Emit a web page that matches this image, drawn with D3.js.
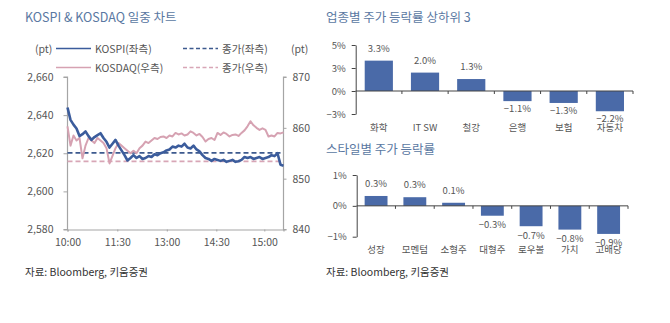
<!DOCTYPE html>
<html><head><meta charset="utf-8">
<script src="https://cdn.jsdelivr.net/npm/d3@7"></script>
<style>
html,body{margin:0;padding:0;background:#fff;}
svg text{font-family:"Noto Sans CJK KR","Noto Sans",sans-serif;}
</style></head>
<body><svg id="c" width="670" height="323"></svg>
<script>
// ---------- DATA ----------
const kospi = [2644.0,2637.5,2635.0,2633.0,2629.0,2630.0,2631.5,2629.0,2627.0,2628.5,2629.5,2630.5,2628.0,2626.0,2623.0,2625.0,2627.0,2624.0,2621.5,2619.0,2616.2,2617.5,2619.0,2617.5,2618.5,2617.0,2617.5,2618.5,2618.0,2619.5,2619.0,2620.0,2620.5,2621.5,2622.0,2623.5,2623.0,2624.0,2623.5,2625.0,2623.0,2622.5,2624.0,2622.0,2621.0,2619.0,2617.5,2617.0,2616.0,2617.0,2616.5,2616.0,2616.5,2615.5,2616.0,2616.5,2615.5,2615.8,2616.5,2618.0,2617.5,2618.0,2617.0,2617.5,2618.0,2617.0,2617.5,2618.0,2619.0,2618.5,2620.0,2614.0,2613.5];
const kosdaq = [860.3,856.5,858.5,857.5,858.0,854.0,856.5,858.0,857.5,857.0,858.0,857.5,857.0,856.0,853.0,854.5,856.0,857.0,856.5,856.0,855.5,855.0,855.5,855.0,856.0,856.5,857.3,857.0,857.5,858.0,857.8,858.2,858.3,858.0,858.5,858.3,859.0,858.7,858.9,858.5,858.7,859.3,859.0,858.5,858.8,858.2,857.3,857.8,858.0,857.6,859.0,858.6,859.1,858.8,858.3,858.6,858.7,858.4,859.0,859.5,860.3,861.3,860.5,860.0,859.6,859.9,859.6,858.3,858.5,858.3,859.0,858.9,859.1];
const kospiClose = 2620.2;
const kosdaqClose = 853.4;
const timeTickIdx = [0, 16.6, 33.1, 49.6, 65.6];
const timeTickLabels = ["10:00","11:30","13:00","14:30","15:00"];
const leftTicks = [2580, 2600, 2620, 2640, 2660];
const rightTicks = [840, 850, 860, 870];

const sectorCats = ["화학","IT SW","철강","은행","보험","자동차"];
const sectorVals = [3.3, 2.0, 1.3, -1.1, -1.3, -2.2];
const sectorTicks = [-2.5, 0, 2.5, 5];
const sectorTickLabels = ["−3%","0%","3%","5%"];

const styleCats = ["성장","모멘텀","소형주","대형주","로우볼","가치","고배당"];
const styleVals = [0.32, 0.28, 0.1, -0.32, -0.66, -0.77, -0.91];
const styleTicks = [-1, 0, 1];
const styleTickLabels = ["−1%","0%","1%"];

// ---------- STYLE ----------
const titleColor = "#5a78a2";
const textColor = "#555";
const axisGray = "#a5a5a5";
const barColor = "#4a6aa8";
const kospiColor = "#3b5c9c";
const kosdaqColor = "#d6a2b2";

const svg = d3.select("#c");
const fmtLabel = v => (v < 0 ? "−" : "") + Math.abs(v).toFixed(1) + "%";

// ---------- LINE CHART ----------
const x = d3.scaleLinear().domain([0, kospi.length - 1]).range([67.5, 283.5]);
const yL = d3.scaleLinear().domain([2580, 2660]).range([229.5, 77]);
const yR = d3.scaleLinear().domain([840, 870]).range([229.5, 77]);

svg.append("text").attr("x", 25).attr("y", 22).attr("font-size", 12.5).attr("fill", titleColor)
  .text("KOSPI & KOSDAQ 일중 차트");

const gL = svg.append("g").attr("transform", "translate(67.5,0)")
  .call(d3.axisLeft(yL).tickValues(leftTicks).tickFormat(d3.format(",")).tickSize(4).tickPadding(10));
const gR = svg.append("g").attr("transform", "translate(283.5,0)")
  .call(d3.axisRight(yR).tickValues(rightTicks).tickFormat(d3.format("d")).tickSize(3).tickPadding(6));
const gB = svg.append("g").attr("transform", "translate(0,229.5)")
  .call(d3.axisBottom(x).tickValues(timeTickIdx).tickFormat((d, i) => timeTickLabels[i]).tickSize(2).tickPadding(7));
[gL, gR, gB].forEach(g => {
  g.select(".domain").attr("stroke", axisGray).attr("stroke-width", 1.2);
  g.selectAll(".tick line").attr("stroke", axisGray);
  g.selectAll("text").attr("fill", textColor).attr("font-size", 10.5).attr("font-family", "'Noto Sans CJK KR',sans-serif");
});
gL.select(".domain").attr("d", "M-4,77H0V229.5H-4");
gR.select(".domain").attr("d", "M3,77H0V229.5H3");

svg.append("line").attr("x1", 67.5).attr("x2", 283.5).attr("y1", yL(kospiClose)).attr("y2", yL(kospiClose))
  .attr("stroke", "#3d5a8e").attr("stroke-width", 1.6).attr("stroke-dasharray", "5,3");
svg.append("line").attr("x1", 67.5).attr("x2", 283.5).attr("y1", yR(kosdaqClose)).attr("y2", yR(kosdaqClose))
  .attr("stroke", "#d8a6b6").attr("stroke-width", 1.6).attr("stroke-dasharray", "5,3");

svg.append("path").datum(kosdaq).attr("fill", "none").attr("stroke", kosdaqColor).attr("stroke-width", 2)
  .attr("stroke-linejoin", "round").attr("d", d3.line().x((d, i) => x(i)).y(d => yR(d)));
svg.append("path").datum(kospi).attr("fill", "none").attr("stroke", kospiColor).attr("stroke-width", 2.6)
  .attr("stroke-linejoin", "round").attr("d", d3.line().x((d, i) => x(i)).y(d => yL(d)));

const lg = svg.append("g").attr("font-size", 10.5).attr("fill", textColor);
lg.append("text").attr("x", 35).attr("y", 53).text("(pt)").attr("fill", textColor);
lg.append("text").attr("x", 291).attr("y", 53).text("(pt)").attr("fill", textColor);
const legendItems = [
  {x1: 56, x2: 91, y: 48.5, color: kospiColor, dash: null, w: 1.6, label: "KOSPI(좌측)", tx: 95},
  {x1: 56, x2: 91, y: 67.5, color: kosdaqColor, dash: null, w: 1.6, label: "KOSDAQ(우측)", tx: 95},
  {x1: 183, x2: 218, y: 48.5, color: "#3d5a8e", dash: "4,2.5", w: 1.4, label: "종가(좌측)", tx: 222},
  {x1: 183, x2: 218, y: 67.5, color: "#d8a6b6", dash: "4,2.5", w: 1.4, label: "종가(우측)", tx: 222}
];
legendItems.forEach(it => {
  lg.append("line").attr("x1", it.x1).attr("x2", it.x2).attr("y1", it.y).attr("y2", it.y)
    .attr("stroke", it.color).attr("stroke-width", it.w).attr("stroke-dasharray", it.dash);
  lg.append("text").attr("x", it.tx).attr("y", it.y + 4).text(it.label).attr("fill", textColor);
});

// ---------- BAR CHARTS ----------
function barChart(opts) {
  const {title, titleY, cats, vals, ticks, tickLabels, x0, x1, yDomain, yRange, padInner, catY, posOff, negOff} = opts;
  svg.append("text").attr("x", 326).attr("y", titleY).attr("font-size", 12.5).attr("fill", titleColor).text(title);
  const xs = d3.scaleBand().domain(cats).range([x0, x1]).paddingInner(padInner).paddingOuter(padInner / 2);
  const ys = d3.scaleLinear().domain(yDomain).range(yRange);
  const g = svg.append("g");
  g.selectAll("rect").data(vals).join("rect")
    .attr("x", (d, i) => xs(cats[i])).attr("width", xs.bandwidth())
    .attr("y", d => ys(Math.max(0, d))).attr("height", d => Math.abs(ys(d) - ys(0)))
    .attr("fill", barColor);
  const ga = g.append("g").attr("transform", `translate(${x0},0)`)
    .call(d3.axisLeft(ys).tickValues(ticks).tickFormat((d, i) => tickLabels[i]).tickSize(4).tickPadding(6).tickSizeOuter(0));
  ga.select(".domain").attr("stroke", "#444");
  ga.selectAll(".tick line").attr("stroke", "#444");
  ga.selectAll("text").attr("fill", textColor).attr("font-size", 9.5).attr("font-family", "'Noto Sans CJK KR',sans-serif");
  const step = xs.step();
  g.append("line").attr("x1", x0).attr("x2", x1).attr("y1", ys(0)).attr("y2", ys(0)).attr("stroke", "#444");
  cats.forEach((c, i) => {
    const bx = x0 + step * (i + 1);
    g.append("line").attr("x1", bx).attr("x2", bx).attr("y1", ys(0)).attr("y2", ys(0) + 3).attr("stroke", "#444");
  });
  g.selectAll("text.v").data(vals).join("text").attr("class", "v")
    .attr("x", (d, i) => xs(cats[i]) + xs.bandwidth() / 2)
    .attr("y", d => d >= 0 ? ys(d) - posOff : ys(d) + negOff)
    .attr("text-anchor", "middle").attr("dominant-baseline", "central")
    .attr("font-size", 9.5).attr("fill", textColor).text(d => fmtLabel(d));
  g.selectAll("text.c").data(cats).join("text").attr("class", "c")
    .attr("x", d => xs(d) + xs.bandwidth() / 2).attr("y", catY)
    .attr("text-anchor", "middle").attr("dominant-baseline", "central")
    .attr("font-size", 9.5).attr("fill", textColor).text(d => d);
}

barChart({title: "업종별 주가 등락률 상하위 3", titleY: 22, cats: sectorCats, vals: sectorVals,
  ticks: sectorTicks, tickLabels: sectorTickLabels, x0: 355.7, x1: 633, yDomain: [-2.5, 5], yRange: [114, 45],
  padInner: 0.39, catY: 127, posOff: 13, negOff: 7});
barChart({title: "스타일별 주가 등락률", titleY: 154, cats: styleCats, vals: styleVals,
  ticks: styleTicks, tickLabels: styleTickLabels, x0: 356.7, x1: 628, yDomain: [-1, 1], yRange: [236.7, 175],
  padInner: 0.41, catY: 249, posOff: 13, negOff: 8.5});

svg.append("text").attr("x", 25).attr("y", 276).attr("font-size", 10.5).attr("fill", "#333").text("자료: Bloomberg, 키움증권");
svg.append("text").attr("x", 326).attr("y", 276).attr("font-size", 10.5).attr("fill", "#333").text("자료: Bloomberg, 키움증권");
</script></body></html>
